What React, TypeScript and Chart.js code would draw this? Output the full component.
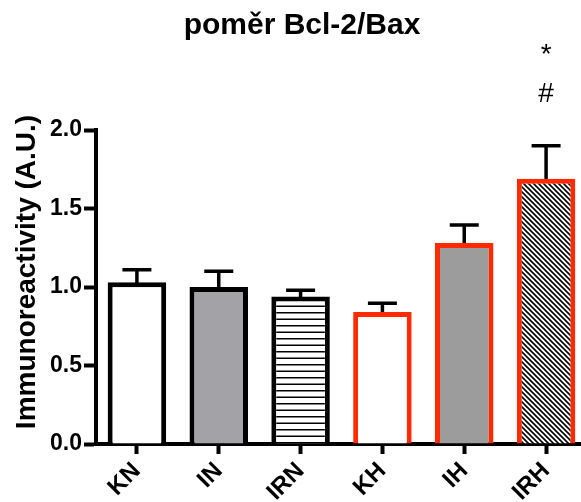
import React, { useEffect, useRef } from 'react';
import { Chart, registerables } from 'chart.js';

Chart.register(...registerables);

const titleText = 'poměr Bcl-2/Bax';
const yAxisTitle = 'Immunoreactivity (A.U.)';
const categories = ['KN', 'IN', 'IRN', 'KH', 'IH', 'IRH'];
const means = [1.03, 1.0, 0.94, 0.84, 1.28, 1.69];
const sem = [0.08, 0.1, 0.04, 0.056, 0.115, 0.21];
const yTicks = [0, 0.5, 1.0, 1.5, 2.0];
const markIndex = 5;
const marks = ['*', '#'];

const FONT = '"Liberation Sans", Arial, Helvetica, sans-serif';
const RED = '#ff2a00';

function stripePattern(): CanvasPattern | string {
  const c = document.createElement('canvas');
  c.width = 8;
  c.height = 13;
  const g = c.getContext('2d');
  if (!g) return '#fff';
  g.fillStyle = '#fff';
  g.fillRect(0, 0, 8, 13);
  g.fillStyle = '#000';
  g.fillRect(0, 0, 8, 1.5);
  g.fillRect(0, 6.5, 8, 1.5);
  return g.createPattern(c, 'repeat') || '#fff';
}

function hatchPattern(): CanvasPattern | string {
  const s = 5;
  const c = document.createElement('canvas');
  c.width = s;
  c.height = s;
  const g = c.getContext('2d');
  if (!g) return '#fff';
  g.fillStyle = '#fff';
  g.fillRect(0, 0, s, s);
  g.strokeStyle = '#000';
  g.lineWidth = 1.6;
  g.beginPath();
  g.moveTo(-1, -1);
  g.lineTo(s + 1, s + 1);
  g.moveTo(-1, s - 1);
  g.lineTo(1, s + 1);
  g.moveTo(s - 1, -1);
  g.lineTo(s + 1, 1);
  g.stroke();
  return g.createPattern(c, 'repeat') || '#fff';
}

const errorBars = {
  id: 'errorBars',
  beforeDatasetsDraw(chart: any) {
    const meta = chart.getDatasetMeta(0);
    const y = chart.scales.y;
    const ctx = chart.ctx;
    ctx.save();
    ctx.strokeStyle = '#000';
    ctx.lineWidth = 3.5;
    meta.data.forEach((bar: any, i: number) => {
      const x = bar.x;
      const yv = y.getPixelForValue(means[i]);
      const ye = y.getPixelForValue(means[i] + sem[i]);
      ctx.beginPath();
      ctx.moveTo(x, yv + 2);
      ctx.lineTo(x, ye);
      ctx.moveTo(x - 14.5, ye);
      ctx.lineTo(x + 14.5, ye);
      ctx.stroke();
    });
    ctx.restore();
  },
};

const texts = {
  id: 'texts',
  afterDraw(chart: any) {
    const ctx = chart.ctx;
    const area = chart.chartArea;
    ctx.save();
    ctx.fillStyle = '#000';
    // title
    ctx.font = `bold 30px ${FONT}`;
    ctx.textAlign = 'center';
    ctx.textBaseline = 'alphabetic';
    ctx.fillText(titleText, chart.width / 2 + 2, 34);
    // y axis title
    ctx.save();
    ctx.translate(27, (area.top + area.bottom) / 2 - 15);
    ctx.rotate(-Math.PI / 2);
    ctx.font = `bold 28px ${FONT}`;
    ctx.textBaseline = 'middle';
    ctx.fillText(yAxisTitle, 0, 0);
    ctx.restore();
    // significance marks
    const bar = chart.getDatasetMeta(0).data[markIndex];
    ctx.font = `28px ${FONT}`;
    ctx.textAlign = 'center';
    ctx.textBaseline = 'alphabetic';
    ctx.fillText(marks[0], bar.x, area.top - 67);
    ctx.fillText(marks[1], bar.x, area.top - 28);
    ctx.restore();
  },
};

export default function App() {
  const ref = useRef<HTMLCanvasElement>(null);
  useEffect(() => {
    if (!ref.current) return;
    const bg = ['#ffffff', '#a3a2a7', stripePattern(), '#ffffff', '#9c9c9c', hatchPattern()];
    const border = ['#000', '#000', '#000', RED, RED, RED];
    const chart = new Chart(ref.current, {
      type: 'bar',
      data: {
        labels: categories,
        datasets: [
          {
            data: means,
            backgroundColor: bg as any,
            borderColor: border,
            borderWidth: 5,
            categoryPercentage: 1,
            barPercentage: 0.715,
          },
        ],
      },
      options: {
        responsive: false,
        animation: false,
        events: [],
        layout: { padding: { top: 130, right: 13, left: 0, bottom: 0 } },
        plugins: {
          legend: { display: false },
          tooltip: { enabled: false },
          title: { display: false },
        },
        scales: {
          x: {
            type: 'category',
            offset: true,
            z: 1,
            grid: {
              offset: false,
              drawOnChartArea: false,
              drawTicks: true,
              tickLength: 10,
              tickWidth: 4,
              tickColor: '#000',
            },
            border: { display: true, color: '#000', width: 4 },
            ticks: {
              color: '#000',
              font: { family: FONT, size: 24, weight: 'bold' },
              minRotation: 45,
              maxRotation: 45,
              padding: 3,
            },
            afterFit: (s: any) => {
              s.height = 58;
            },
          },
          y: {
            min: 0,
            max: 2,
            z: 1,
            afterBuildTicks: (s: any) => {
              s.ticks = yTicks.map((v) => ({ value: v }));
            },
            grid: {
              drawOnChartArea: false,
              drawTicks: true,
              tickLength: 12,
              tickWidth: 4,
              tickColor: '#000',
            },
            border: { display: true, color: '#000', width: 4 },
            ticks: {
              color: '#000',
              font: { family: FONT, size: 23, weight: 'bold' },
              padding: 2,
              callback: (v: any) => Number(v).toFixed(1),
            },
            afterFit: (s: any) => {
              s.width = 96;
            },
          },
        },
      } as any,
      plugins: [errorBars, texts],
    });
    return () => chart.destroy();
  }, []);
  return (
    <div style={{ position: 'absolute', left: 0, top: 0, width: 581, height: 502, overflow: 'hidden', background: '#fff' }}>
      <canvas ref={ref} width={600} height={502} style={{ display: 'block' }} />
    </div>
  );
}
